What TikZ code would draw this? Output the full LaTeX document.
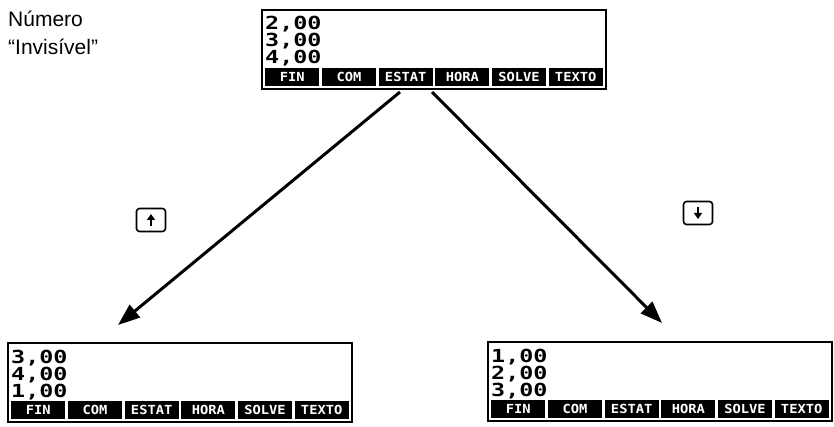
\documentclass[tikz,border=0pt]{standalone}
\usepackage{fontspec}
\setmainfont{Liberation Sans}
\newfontfamily\lcdfont[FakeStretch=1.3]{DejaVu Sans Mono Bold}
\newfontfamily\keyfont[FakeStretch=1.1]{DejaVu Sans Mono Bold}
\usetikzlibrary{arrows.meta}

\tikzset{
  screen/.style={draw=black, line width=2pt, minimum width=344pt, minimum height=79pt, inner sep=0pt},
  lcdrow/.style={anchor=base west, inner sep=0pt, font=\lcdfont\fontsize{18}{18}\selectfont},
  softkey/.style={fill=black, text=white, minimum width=54pt, minimum height=18pt, inner sep=0pt, font=\keyfont\fontsize{12.5}{12.5}\selectfont},
  bigarrow/.style={line width=3pt, -{Triangle[length=22pt,width=16pt]}},
  arrowkey/.style={draw=black, line width=1.6pt, rounded corners=3pt, minimum width=29pt, minimum height=23pt, inner sep=0pt},
  keyglyph/.style={line width=2.2pt, -{Triangle[length=6pt,width=8pt]}},
  caption/.style={anchor=base west, inner sep=0pt, font=\fontsize{21}{21}\selectfont}
}

% screen: name, left x, top y, three stack lines
\newcommand{\lcdscreen}[6]{%
  \node[screen] (#1) at (#2+172,#3+39.5) {};
  \node[lcdrow] (#1-a) at (#2+3,#3+20) {#4};
  \node[lcdrow] (#1-b) at (#2+3,#3+37) {#5};
  \node[lcdrow] (#1-c) at (#2+3,#3+54) {#6};
  \foreach \lbl [count=\i from 0] in {FIN,COM,ESTAT,HORA,SOLVE,TEXTO}
    \node[softkey] (#1-k\i) at (#2+2+28.33+\i*56.67,#3+67) {\lbl};
}

\begin{document}
\begin{tikzpicture}[x=1pt,y=-1pt]
\useasboundingbox (0,0) rectangle (834,427);

\node[caption] (cap1) at (8,27) {Número};
\node[caption] (cap2) at (8,55) {“Invisível”};

\lcdscreen{top}{262}{10}{2,00}{3,00}{4,00}
\lcdscreen{left}{8}{343}{3,00}{4,00}{1,00}
\lcdscreen{right}{488}{342}{1,00}{2,00}{3,00}

\coordinate (tipL) at (118,325);
\coordinate (tipR) at (662,323);
\draw[bigarrow] ([xshift=-34pt,yshift=-2pt]top.south) -- (tipL);
\draw[bigarrow] ([xshift=-2pt,yshift=-2pt]top.south) -- (tipR);

\node[arrowkey] (upkey) at (151,220) {};
\draw[keyglyph] ([yshift=-6pt]upkey.center) -- ([yshift=6pt]upkey.center);
\node[arrowkey] (downkey) at (698,213) {};
\draw[keyglyph] ([yshift=6pt]downkey.center) -- ([yshift=-6pt]downkey.center);
\end{tikzpicture}
\end{document}
